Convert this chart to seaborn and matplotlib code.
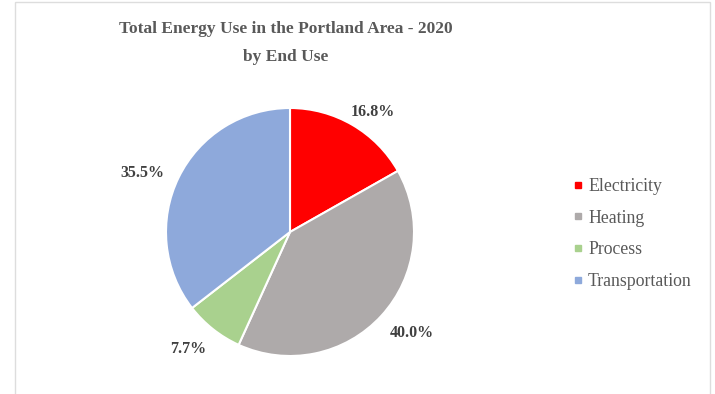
import matplotlib
matplotlib.use("Agg")
import numpy as np
import matplotlib.pyplot as plt
from matplotlib.lines import Line2D
from matplotlib.patches import Rectangle
import seaborn as sns

# Energy use shares by end use (percent)
categories = ["Electricity", "Heating", "Process", "Transportation"]
shares = [16.8, 40.0, 7.7, 35.5]
colors = ["#FF0000", "#AEAAAA", "#A9D18E", "#8EA9DB"]
title = "Total Energy Use in the Portland Area - 2020\nby End Use"

sns.set_theme(style="white")
plt.rcParams["font.family"] = ["Liberation Serif", "DejaVu Serif"]

W, H = 715, 394
fig = plt.figure(figsize=(W / 100, H / 100), dpi=100)
fig.patch.set_facecolor("white")

# Chart frame (open at the bottom edge of the image)
fig.add_artist(Rectangle((15 / W, -10 / H), (710 - 15) / W, (392 + 10) / H,
                         transform=fig.transFigure, fill=False,
                         edgecolor="#DDDDDD", linewidth=1.0))

cx, cy, r = 290, 232, 124
ax = fig.add_axes([(cx - r) / W, (H - cy - r) / H, 2 * r / W, 2 * r / H])
wedges, _, autotexts = ax.pie(
    shares, colors=colors, startangle=90, counterclock=False,
    autopct=lambda p: f"{p:.1f}%", pctdistance=1.2,
    wedgeprops=dict(edgecolor="white", linewidth=1.5),
    textprops=dict(fontsize=11.5, fontweight="bold", color="#404040"),
)
# Place value labels outside each wedge, a bit further out horizontally
for w, t in zip(wedges, autotexts):
    mid = np.deg2rad((w.theta1 + w.theta2) / 2)
    t.set_position((1.33 * np.cos(mid), 1.16 * np.sin(mid) - 0.035))
    t.set_ha("center")
    t.set_va("center")
ax.set_xlim(-1, 1)
ax.set_ylim(-1, 1)
ax.axis("off")

fig.text(286 / W, 1 - 43 / H, title, ha="center", va="center",
         fontsize=12.5, fontweight="bold", color="#595959", linespacing=2.0)

handles = [Line2D([0], [0], marker="s", linestyle="", markersize=5,
                  markerfacecolor=c, markeredgecolor=c) for c in colors]
fig.legend(handles, categories, loc="center left",
           bbox_to_anchor=(564 / W, 1 - 234 / H), frameon=False,
           fontsize=12.8, labelcolor="#595959", handlelength=0.6,
           handletextpad=0.25, labelspacing=0.82, borderpad=0)

fig.savefig("out.png", dpi=100, facecolor="white")
